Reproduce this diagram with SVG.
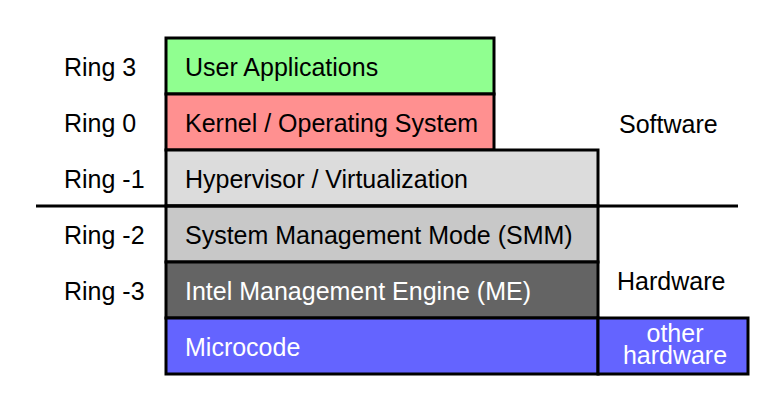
<svg xmlns="http://www.w3.org/2000/svg" width="774" height="412" viewBox="0 0 774 412">
<style>
text{font-family:"Liberation Sans",Arial,sans-serif;font-size:25px;fill:#000}
.b{stroke:#000;stroke-width:3}
.w{fill:#fff}
</style>
<rect width="774" height="412" fill="#fff"/>
<g id="ring-labels">
<text x="64" y="76">Ring 3</text>
<text x="64" y="132">Ring 0</text>
<text x="64" y="188">Ring -1</text>
<text x="64" y="244">Ring -2</text>
<text x="64" y="300">Ring -3</text>
</g>
<g id="user-apps"><rect class="b" x="166" y="38" width="328" height="56" fill="#90FF90"/><text x="185" y="76">User Applications</text></g>
<g id="kernel"><rect class="b" x="166" y="94" width="328" height="56" fill="#FF9090"/><text x="185" y="132">Kernel / Operating System</text></g>
<g id="hypervisor"><rect class="b" x="166" y="150" width="432" height="56" fill="#DCDCDC"/><text x="185" y="188">Hypervisor / Virtualization</text></g>
<g id="smm"><rect class="b" x="166" y="206" width="432" height="56" fill="#C8C8C8"/><text x="185" y="244">System Management Mode (SMM)</text></g>
<g id="me"><rect class="b" x="166" y="262" width="432" height="56" fill="#646464"/><text class="w" x="185" y="300">Intel Management Engine (ME)</text></g>
<g id="microcode"><rect class="b" x="166" y="318" width="432" height="56" fill="#6464FF"/><text class="w" x="185" y="356">Microcode</text></g>
<g id="other-hw"><rect class="b" x="598" y="318" width="150" height="56" fill="#6464FF"/><text class="w" x="675" y="342" text-anchor="middle" font-size="24">other</text><text class="w" x="675" y="364" text-anchor="middle" font-size="24">hardware</text></g>
<g id="connectors"><line class="b" x1="36" y1="206" x2="738" y2="206"/></g>
<g id="side-labels">
<text x="619" y="133">Software</text>
<text x="617" y="290">Hardware</text>
</g>
</svg>
